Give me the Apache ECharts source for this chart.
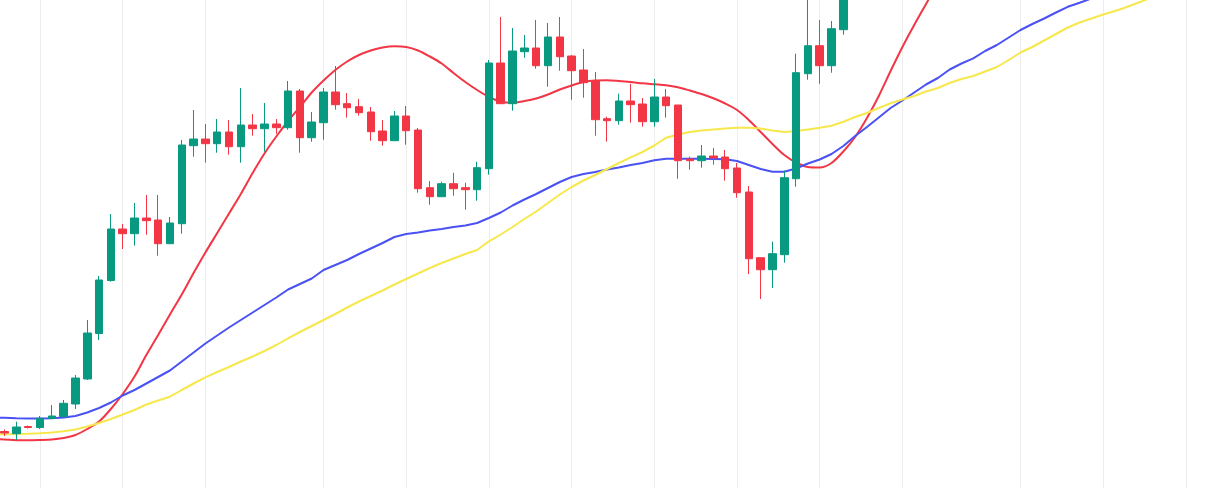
<!DOCTYPE html>
<html>
<head>
<meta charset="utf-8">
<script src="https://cdn.jsdelivr.net/npm/echarts@6/dist/echarts.min.js"></script>
<style>
html,body{margin:0;padding:0;background:#fff;}
#chart{width:1208px;height:488px;}
</style>
</head>
<body>
<div id="chart"></div>
<script>
// Daily candles (first entry is the day before the visible window)
const START_DAY = Date.UTC(2023, 0, 4);
const DAY_COUNT = 103;

const openPrices = [null,
  56.5, 54.3, 61.5, 60.5, 69.5, 71.5, 84, 109, 154.5, 207.5,
  259, 254.3, 270, 268, 244.3, 264.3, 342.3, 349, 344.3, 356,
  341.3, 363, 359.3, 364, 360.3, 397, 350.3, 365.3, 396, 384.3,
  381.3, 376, 357, 347.3, 372, 358, 300.3, 291.3, 304.3, 300.3,
  298.3, 319.3, 425, 384.3, 436.3, 440, 422.3, 451, 432, 418,
  407, 369.3, 367.3, 387, 384, 366.3, 391, 383, 329, 327.3,
  332, 331, 320, 296, 230.3, 218.3, 233.3, 309.3, 414.3, 442.3,
  422.3, 458.3];
const closePrices = [null,
  55, 61, 60.5, 69.7, 72, 84.7, 110, 155, 208, 259,
  254.3, 270, 267.3, 244.3, 265, 343, 349, 344.3, 356, 341.3,
  363, 359.3, 364, 360.3, 397, 350.3, 366, 396, 383.3, 380.3,
  375.3, 356.3, 347.3, 372, 357.3, 299.3, 291.3, 304.3, 299.3, 298.3,
  320.3, 425, 384.3, 437, 440, 422.3, 451, 431.3, 417.3, 405.3,
  368.3, 367.3, 387, 383.3, 366.3, 391, 382.3, 327.3, 327.3, 332,
  330, 319.3, 295.3, 229.3, 218.3, 234.3, 310.3, 415.3, 442.3, 422.3,
  459.3, 505];
const lowPrices = [null,
  52, 48, 59.5, 59, 69.3, 71, 79, 108, 148, 206.3,
  239, 242.3, 253.3, 232.3, 244, 254.3, 331.3, 325.3, 335.3, 333.3,
  325.3, 352.3, 336.3, 354.3, 358.3, 335.3, 346.3, 348.3, 378.3, 370.3,
  372.3, 347.3, 342.3, 347, 343.3, 295.3, 283.3, 291, 292.3, 278.3,
  287.3, 313.3, 384, 377.3, 430.3, 419.3, 401.3, 417.3, 388.3, 390.3,
  352.3, 346.3, 363.3, 365.3, 361.3, 361.3, 370.3, 309.3, 318.3, 320.3,
  323.3, 307.3, 290.3, 214, 189, 200, 225.3, 301.3, 408.3, 404.3,
  415.3, 453.3];
const highPrices = [null,
  58.5, 66.3, 62.5, 72, 83, 88, 113, 168, 212, 274,
  264, 285, 293, 293, 271, 348, 378, 364, 369, 368,
  400, 374, 385, 369, 407, 399, 376, 400, 422, 395,
  389, 381, 368, 377, 382, 360, 307, 306.3, 315.3, 305.3,
  326.3, 428, 471, 460, 453, 468, 465, 471, 433, 439,
  416, 371.3, 394.3, 404.3, 390, 409, 399, 383, 331.3, 343,
  340, 338, 325, 302, 230.3, 246.3, 317.3, 434.3, 495, 468,
  467, 512];

const maRed = [49,
  48.5, 47.8, 47.7, 48, 48.5, 50, 53, 59, 66.5, 79,
  94, 111.5, 133, 153, 173.5, 193.5, 215, 235.5, 255, 274.5,
  294, 315, 334.5, 351.5, 367, 381, 395.5, 407.5, 418, 426.5,
  433, 437.5, 440.5, 441.8, 441, 437.5, 431.5, 424.5, 415, 406,
  398, 391, 386.5, 385.3, 387, 389.5, 393.5, 398.5, 402.5, 406,
  407.5, 407.7, 407, 406, 404.7, 403.7, 402.7, 400.7, 397.5, 394,
  389.7, 384.5, 378, 368, 356, 344, 333, 325.5, 321, 320.5,
  325, 336.5, 351, 370, 392, 417, 441, 463, 484, 505, 526];
const maBlue = [70.5,
  70.2, 69.8, 69.5, 69.4, 69.8, 70.4, 72, 75.5, 80, 85.5,
  92.5, 98, 104.5, 111, 117.5, 126.5, 135.5, 144.5, 152.5, 160.5,
  168, 175.5, 183, 190.5, 198.5, 204, 209.5, 218, 223, 228,
  234, 239.5, 245, 251, 254, 255.5, 257.5, 259, 261, 262.5,
  265, 270, 275.5, 282.5, 288.5, 294, 300, 306, 311, 314,
  316, 318.5, 320.5, 323, 325, 327.7, 329.2, 329.2, 329.2, 329.2,
  329, 328.8, 327, 323, 319, 316.3, 316.3, 319.5, 324.5, 328.5,
  334, 342, 352, 361, 370.5, 380, 387.5, 395.5, 403.5, 410,
  418.5, 424.5, 429.7, 437, 443, 450.5, 458, 464, 469.5, 475.5,
  481.2, 485.3, 489.5, 494, 498];
const maYellow = [53.7,
  53.8, 54, 54.2, 54.7, 55.5, 56.7, 58.5, 61.5, 65, 69,
  73.5, 78, 83.5, 87.5, 91.3, 98, 104.5, 110.7, 116, 121,
  126.5, 131.5, 137, 143, 149.7, 156, 162, 168, 174, 180.5,
  186.5, 192, 197.5, 203.5, 209, 214.5, 220, 225, 229.5, 234,
  238, 246.7, 253.5, 261, 269, 276.5, 285, 293.5, 301, 307.5,
  313, 319, 325, 330.7, 336, 342.5, 350.3, 353.5, 356, 357.5,
  358.5, 359.5, 360.2, 360.3, 359.5, 357.5, 356, 357, 358.5, 360.2,
  362.3, 366.2, 371, 375, 380, 384.7, 388.5, 392, 396.5, 400,
  405, 409, 412, 416.5, 421, 428, 435.5, 441, 447.5, 454,
  460.5, 465.5, 469.5, 473.5, 477, 481, 485.5, 490, 494];

// Weekly grid: days of month that carry a vertical grid line
const gridDays = [1, 8, 15, 22];

const dates = [];
for (let i = 0; i < DAY_COUNT; i++) {
  const d = new Date(START_DAY + i * 86400000);
  dates.push(d.toISOString().slice(0, 10));
}

const candleData = openPrices.map((o, i) =>
  o == null ? '-' : [o, closePrices[i], lowPrices[i], highPrices[i]]);

const chart = echarts.init(document.getElementById('chart'), null, {renderer: 'canvas'});
chart.setOption({
  animation: false,
  backgroundColor: '#ffffff',
  grid: {left: -7.25, right: 10.25, top: 0, bottom: 0, containLabel: false, outerBoundsMode: 'none'},
  xAxis: {
    type: 'category',
    data: dates,
    boundaryGap: false,
    axisLine: {show: false},
    axisTick: {show: false},
    axisLabel: {show: false},
    splitLine: {
      show: true,
      interval: (idx, val) => gridDays.includes(Number(val.slice(8, 10))),
      lineStyle: {color: '#ededed', width: 1}
    }
  },
  yAxis: {
    type: 'value',
    min: 0,
    max: 488,
    show: false,
    splitLine: {show: false}
  },
  series: [
    {
      name: 'MA red', type: 'line', data: maRed, symbol: 'none', smooth: 0.3,
      lineStyle: {color: '#f23645', width: 2}, z: 2
    },
    {
      name: 'MA blue', type: 'line', data: maBlue, symbol: 'none',
      lineStyle: {color: '#4a52f4', width: 2}, z: 2
    },
    {
      name: 'MA yellow', type: 'line', data: maYellow, symbol: 'none',
      lineStyle: {color: '#f6e84c', width: 2}, z: 2
    },
    {
      name: 'Price', type: 'candlestick', data: candleData,
      barWidth: 8, z: 3,
      itemStyle: {
        color: '#089981', color0: '#f23645',
        borderColor: '#089981', borderColor0: '#f23645', borderWidth: 1
      }
    }
  ]
});
</script>
</body>
</html>
